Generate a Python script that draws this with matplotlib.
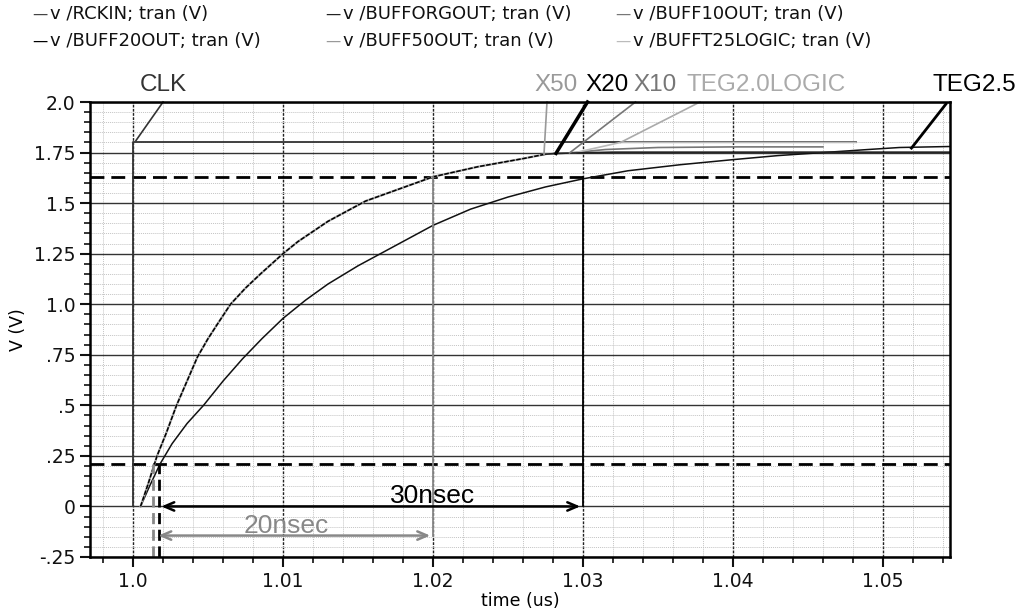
import numpy as np
import matplotlib
matplotlib.use("Agg")
import matplotlib.pyplot as plt
from matplotlib.ticker import MultipleLocator, FixedLocator

# fast buffers (X50 / X20 / X10 / TEG2.0LOGIC overlap on the rise)
fast_t = [1.0005, 1.0010, 1.0016, 1.0022, 1.0029, 1.0036, 1.0043, 1.0050, 1.0057,
          1.0065, 1.0075, 1.0085, 1.0100, 1.0110, 1.0120, 1.0130, 1.0140, 1.0155,
          1.0170, 1.0185, 1.0200, 1.0215, 1.0230, 1.0245, 1.0260, 1.0275]
fast_v = [0.00, 0.11, 0.25, 0.36, 0.50, 0.62, 0.74, 0.83, 0.91,
          1.00, 1.08, 1.15, 1.25, 1.31, 1.36, 1.41, 1.45, 1.51,
          1.55, 1.59, 1.63, 1.655, 1.68, 1.70, 1.72, 1.742]

x20_t = [1.0275, 1.0283, 1.0320, 1.0545]
x20_v = [1.742, 1.746, 1.752, 1.752]
x10_t = [1.0275, 1.0291, 1.0315, 1.0350, 1.0400, 1.0460]
x10_v = [1.742, 1.748, 1.765, 1.775, 1.778, 1.778]
teg20_t = [1.0275, 1.0295, 1.0325, 1.0400, 1.0482]
teg20_v = [1.742, 1.750, 1.800, 1.800, 1.800]

# TEG2.5 (slow)
slow_t = [1.0005, 1.0011, 1.0018, 1.0026, 1.0036, 1.0047, 1.0060, 1.0073, 1.0086,
          1.0100, 1.0115, 1.0130, 1.0150, 1.0175, 1.0200, 1.0225, 1.0250, 1.0275,
          1.0300, 1.0330, 1.0365, 1.0400, 1.0430, 1.0460, 1.0490, 1.0511, 1.0545]
slow_v = [0.00, 0.10, 0.21, 0.31, 0.41, 0.50, 0.62, 0.73, 0.83,
          0.93, 1.02, 1.10, 1.19, 1.29, 1.39, 1.47, 1.53, 1.58,
          1.62, 1.66, 1.69, 1.715, 1.735, 1.75, 1.765, 1.775, 1.78]

# clock
clk_t = [1.0, 1.0, 1.0482]
clk_v = [0.0, 1.8, 1.8]

thr_hi = 1.63
thr_lo = 0.21

ytick_vals = [-0.25, 0, 0.25, 0.5, 0.75, 1.0, 1.25, 1.5, 1.75, 2.0]
ytick_labs = ["-.25", "0", ".25", ".5", ".75", "1.0", "1.25", "1.5", "1.75", "2.0"]
xtick_vals = [1.0, 1.01, 1.02, 1.03, 1.04, 1.05]
xtick_labs = ["1.0", "1.01", "1.02", "1.03", "1.04", "1.05"]

legend_rows = [
    [("v /RCKIN; tran (V)", "#444444"), ("v /BUFFORGOUT; tran (V)", "#222222"),
     ("v /BUFF10OUT; tran (V)", "#777777")],
    [("v /BUFF20OUT; tran (V)", "#000000"), ("v /BUFF50OUT; tran (V)", "#999999"),
     ("v /BUFFT25LOGIC; tran (V)", "#bbbbbb")],
]

narrow = ["Liberation Sans Narrow", "Liberation Sans", "DejaVu Sans"]

fig = plt.figure(figsize=(10.2, 6.14), dpi=100)
ax = fig.add_axes([90 / 1020, 57 / 614, 860 / 1020, 455 / 614])

ax.set_xlim(0.99713, 1.05447)
ax.set_ylim(-0.25, 2.0)

ax.xaxis.set_major_locator(FixedLocator(xtick_vals))
ax.set_xticklabels(xtick_labs)
ax.xaxis.set_minor_locator(MultipleLocator(0.002))
ax.yaxis.set_major_locator(FixedLocator(ytick_vals))
ax.set_yticklabels(ytick_labs)
ax.yaxis.set_minor_locator(MultipleLocator(0.05))

ax.grid(True, which="minor", color="#c4c4c4", linestyle=(0, (1, 1)), lw=0.7)
ax.grid(True, which="major", axis="x", color="#222222", linestyle=(0, (2, 1)), lw=1.0)
ax.grid(True, which="major", axis="y", color="#333333", linestyle="-", lw=1.0)
ax.set_axisbelow(True)

ax.tick_params(which="major", direction="out", length=7, width=1.5, labelsize=13.5,
               colors="#111111")
ax.tick_params(which="minor", direction="out", length=4, width=1.2, colors="#111111")
for s in ax.spines.values():
    s.set_linewidth(1.8)
    s.set_color("black")

ax.set_xlabel("time (us)", fontsize=12.5, labelpad=1)
ax.set_ylabel("V (V)", fontsize=12.5, labelpad=5)

# threshold lines
ax.axhline(thr_hi, color="black", lw=2, linestyle=(0, (5, 2.5)))
ax.axhline(thr_lo, color="black", lw=2, linestyle=(0, (5, 2.5)))

# waveforms
ax.plot(clk_t, clk_v, color="#333333", lw=1.3)
ax.plot(slow_t, slow_v, color="#111111", lw=1.1)
ax.plot(fast_t, fast_v, color="#aaaaaa", lw=1.6)
ax.plot(fast_t, fast_v, color="#000000", lw=1.1, linestyle=(0, (3, 1)))
ax.plot(x10_t, x10_v, color="#777777", lw=1.2)
ax.plot(teg20_t, teg20_v, color="#bbbbbb", lw=1.2)
ax.plot(x20_t, x20_v, color="#222222", lw=1.2)

# crossing markers
ax.plot([1.0013, 1.0013], [-0.25, thr_lo], color="#888888", lw=2, linestyle=(0, (4, 2)))
ax.plot([1.0017, 1.0017], [-0.25, thr_lo], color="black", lw=2, linestyle=(0, (4, 2)))
ax.plot([1.02, 1.02], [-0.144, thr_hi], color="#888888", lw=1.3)
ax.plot([1.03, 1.03], [0.0, thr_hi], color="black", lw=1.3)

ax.annotate("", xy=(1.0017, 0.0), xytext=(1.03, 0.0),
            arrowprops=dict(arrowstyle="<->,head_length=0.7,head_width=0.3",
                            color="black", lw=1.8))
ax.annotate("", xy=(1.0015, -0.144), xytext=(1.02, -0.144),
            arrowprops=dict(arrowstyle="<->,head_length=0.7,head_width=0.3",
                            color="#888888", lw=1.8))
ax.text(1.0200, 0.018, "30nsec", fontsize=19, family=narrow, color="black",
        ha="center", va="baseline")
ax.text(1.0102, -0.129, "20nsec", fontsize=19, family=narrow, color="#888888",
        ha="center", va="baseline")

# curve labels with pointers
labels = [
    ("CLK", 1.00203, "#333333", 1.0002, 1.81, 1.002, 2.0, 1.2),
    ("X50", 1.0282, "#999999", 1.0274, 1.742, 1.0276, 2.0, 1.2),
    ("X20", 1.0316, "#000000", 1.0282, 1.746, 1.0303, 2.0, 2.5),
    ("X10", 1.0348, "#777777", 1.0291, 1.748, 1.0335, 2.0, 1.2),
    ("TEG2.0LOGIC", 1.0422, "#aaaaaa", 1.0325, 1.80, 1.0378, 2.0, 1.2),
    ("TEG2.5", 1.0561, "#000000", 1.0519, 1.772, 1.0542, 1.99, 2.0),
]
for txt, tx, col, x0, y0, x1, y1, w in labels:
    ax.text(tx, 2.054, txt, fontsize=17.5, family=narrow, color=col,
            ha="center", va="baseline", clip_on=False)
    ax.plot([x0, x1], [y0, y1], color=col, lw=w, clip_on=False)

# legend block at the top
col_x = [32, 325, 615]
row_y = [14, 41]
for r, row in enumerate(legend_rows):
    for c, (name, col) in enumerate(row):
        fig.text(col_x[c] / 1020, 1 - row_y[r] / 614, "\u2014", color=col,
                 fontsize=11, va="center", ha="left")
        fig.text((col_x[c] + 18) / 1020, 1 - row_y[r] / 614, name, color="#111111",
                 fontsize=13, va="center", ha="left")

fig.savefig("out.png", dpi=100)
